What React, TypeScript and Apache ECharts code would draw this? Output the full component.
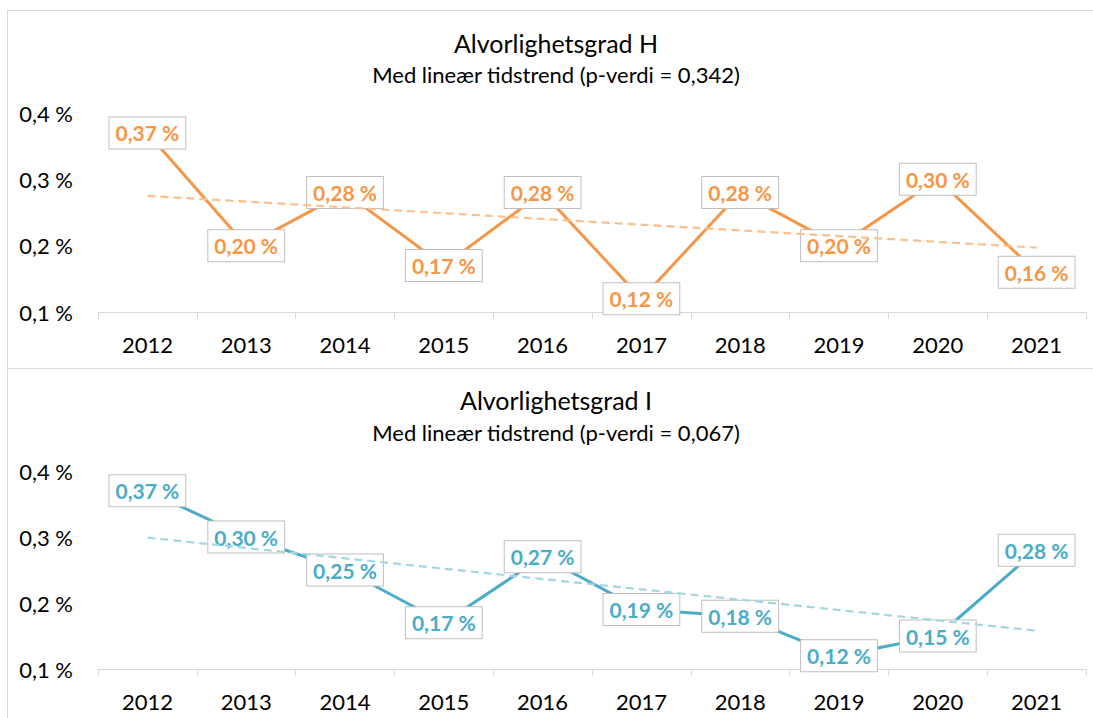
import React, { useEffect, useRef } from "react";
import * as echarts from "echarts";

const years = ["2012", "2013", "2014", "2015", "2016", "2017", "2018", "2019", "2020", "2021"];
const valuesH = [0.37, 0.2, 0.28, 0.17, 0.28, 0.12, 0.28, 0.2, 0.3, 0.16];
const valuesI = [0.37, 0.3, 0.25, 0.17, 0.27, 0.19, 0.18, 0.12, 0.15, 0.28];
// trend line end points (2012, 2021)
const trendH = [0.275, 0.197];
const trendI = [0.299, 0.158];
const yTicks = [0.1, 0.2, 0.3, 0.4];
const titleH = "Alvorlighetsgrad H";
const subH = "Med lineær tidstrend (p-verdi = 0,342)";
const titleI = "Alvorlighetsgrad I";
const subI = "Med lineær tidstrend (p-verdi = 0,067)";

const FONT = "Lato, 'Liberation Sans', sans-serif";
const ORANGE = "#F79646";
const ORANGE_T = "#FAC090";
const BLUE = "#4BACC6";
const BLUE_T = "#A5D5E2";

const fmt = (v: number) => v.toFixed(2).replace(".", ",") + " %";
const fmtAxis = (v: number) => v.toFixed(1).replace(".", ",") + " %";

function trendData(t: number[]) {
  return years.map((_, i) => (i === 0 ? t[0] : i === years.length - 1 ? t[1] : null));
}

export default function App() {
  const ref = useRef<HTMLDivElement>(null);
  useEffect(() => {
    if (!ref.current) return;
    const chart = echarts.init(ref.current, undefined, { renderer: "svg" });
    const xAxisBase = (gridIndex: number) => ({
      type: "category" as const,
      gridIndex,
      data: years,
      boundaryGap: true,
      axisLine: { lineStyle: { color: "#D9D9D9", width: 1 } },
      axisTick: { show: true, length: 7, lineStyle: { color: "#D9D9D9" } },
      axisLabel: { color: "#000", fontFamily: FONT, fontSize: 22, margin: 21 },
    });
    const yAxisBase = (gridIndex: number) => ({
      type: "value" as const,
      gridIndex,
      min: yTicks[0],
      max: yTicks[yTicks.length - 1],
      interval: 0.1,
      axisLine: { show: false },
      axisTick: { show: false },
      splitLine: { show: false },
      axisLabel: {
        color: "#000",
        fontFamily: FONT,
        fontSize: 22,
        margin: 25,
        formatter: (v: number) => fmtAxis(v),
      },
    });
    const dataSeries = (idx: number, data: number[], color: string) => ({
      type: "line" as const,
      xAxisIndex: idx,
      yAxisIndex: idx,
      data,
      symbol: "circle",
      symbolSize: 2,
      showSymbol: true,
      itemStyle: { color: "rgba(0,0,0,0)", borderWidth: 0 },
      z: 2,
      lineStyle: { color, width: 3 },
      label: {
        show: true,
        position: "inside",
        formatter: (p: any) => fmt(p.value),
        color,
        fontFamily: FONT,
        fontWeight: "bold",
        fontSize: 21,
        backgroundColor: "#fff",
        borderColor: "#BFBFBF",
        borderWidth: 1,
        padding: [6, 6, 4, 6],
      },
    });
    const trendSeries = (idx: number, t: number[], color: string) => ({
      type: "line" as const,
      xAxisIndex: idx,
      yAxisIndex: idx,
      data: trendData(t),
      connectNulls: true,
      symbol: "none",
      z: 5,
      lineStyle: { color, width: 2.2, type: [8, 5] },
      silent: true,
    });
    const textEl = (text: string, x: number, y: number, size: number) => ({
      type: "text",
      x,
      y,
      style: {
        text,
        fill: "#000",
        font: `${size}px ${FONT}`,
        textAlign: "center",
        textVerticalAlign: "middle",
      },
    });
    chart.setOption({
      animation: false,
      backgroundColor: "#fff",
      grid: [
        { left: 98, right: 7, top: 113, height: 199 },
        { left: 98, right: 7, top: 471, height: 198 },
      ],
      xAxis: [xAxisBase(0), xAxisBase(1)],
      yAxis: [yAxisBase(0), yAxisBase(1)],
      series: [
        dataSeries(0, valuesH, ORANGE),
        trendSeries(0, trendH, ORANGE_T),
        dataSeries(1, valuesI, BLUE),
        trendSeries(1, trendI, BLUE_T),
      ],
      graphic: [
        {
          type: "rect",
          shape: { x: 7.5, y: 10.5, width: 1100, height: 358 },
          style: { fill: "none", stroke: "#D9D9D9", lineWidth: 1 },
          silent: true,
        },
        {
          type: "rect",
          shape: { x: 7.5, y: 368.5, width: 1100, height: 400 },
          style: { fill: "none", stroke: "#D9D9D9", lineWidth: 1 },
          silent: true,
        },
        textEl(titleH, 556, 43, 25),
        textEl(subH, 556, 74, 22),
        textEl(titleI, 556, 400, 25),
        textEl(subI, 556, 432, 22),
      ],
    });
    return () => chart.dispose();
  }, []);
  return (
    <div
      ref={ref}
      style={{ position: "fixed", left: 0, top: 0, width: 1093, height: 718, background: "#fff" }}
    />
  );
}
